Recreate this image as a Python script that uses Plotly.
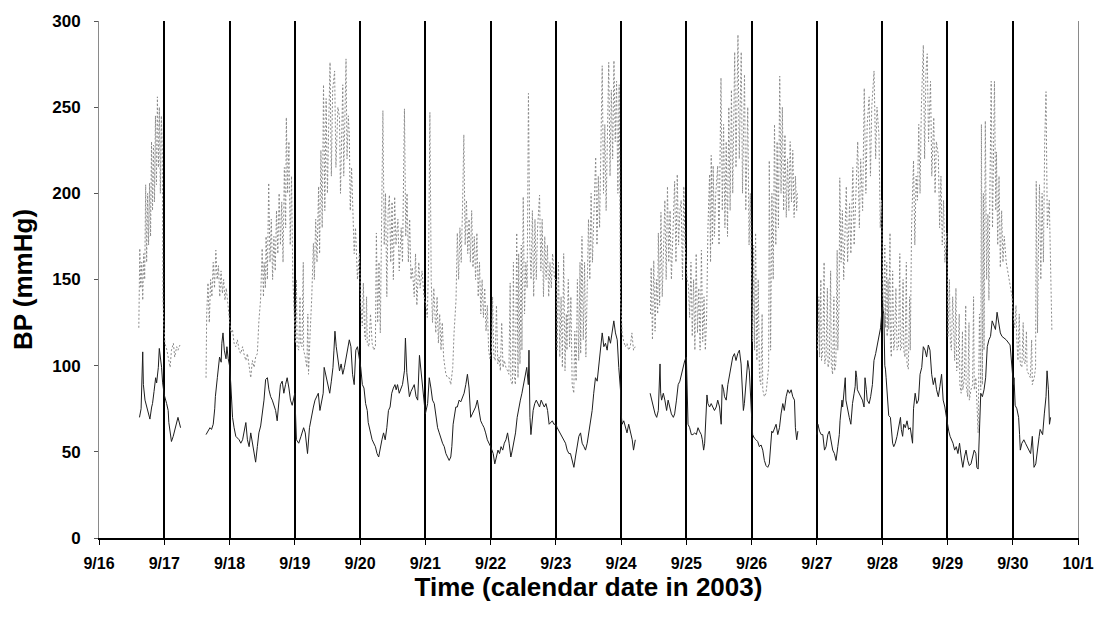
import pandas as pd
import plotly.graph_objects as go

BASE = pd.Timestamp("2003-09-16")

day_labels = ["9/16", "9/17", "9/18", "9/19", "9/20", "9/21", "9/22", "9/23",
              "9/24", "9/25", "9/26", "9/27", "9/28", "9/29", "9/30", "10/1"]
y_ticks = [0, 50, 100, 150, 200, 250, 300]

# (days since 9/16 00:00, mmHg) -- upper dotted series (systolic)
SYS_A = [(0.61, 122), (0.625, 168), (0.64, 145), (0.655, 160), (0.67, 138), (0.685, 165), (0.70, 150),
         (0.715, 205), (0.73, 160), (0.745, 200), (0.76, 170), (0.775, 206), (0.79, 175), (0.805, 230),
         (0.82, 190), (0.835, 228), (0.85, 195), (0.865, 245), (0.88, 205), (0.895, 256), (0.91, 215),
         (0.925, 250), (0.94, 200), (0.955, 245), (0.97, 225), (0.98, 140), (0.995, 122), (1.01, 113),
         (1.04, 109), (1.06, 105), (1.09, 99), (1.11, 109), (1.14, 113), (1.16, 105), (1.19, 111),
         (1.21, 109), (1.24, 112)]

SYS_B = [(1.64, 93), (1.65, 130), (1.67, 148), (1.69, 125), (1.71, 150), (1.73, 140), (1.75, 160),
         (1.77, 145), (1.79, 167), (1.81, 150), (1.83, 158), (1.85, 140), (1.87, 155), (1.89, 142),
         (1.91, 150), (1.93, 138), (1.95, 145), (1.97, 135), (1.99, 130),
         (2.02, 119), (2.045, 121), (2.07, 113), (2.095, 111), (2.12, 115), (2.147, 109), (2.17, 107),
         (2.2, 111), (2.22, 107), (2.25, 103), (2.274, 107), (2.30, 101), (2.325, 93), (2.35, 103),
         (2.376, 99), (2.40, 105), (2.426, 107), (2.45, 126), (2.475, 138), (2.49, 155), (2.5, 168),
         (2.52, 140), (2.53, 160), (2.55, 145), (2.56, 175), (2.58, 150), (2.6, 206), (2.62, 160),
         (2.64, 185), (2.66, 150), (2.68, 175), (2.7, 155), (2.72, 190), (2.74, 165), (2.76, 200),
         (2.78, 170), (2.8, 195), (2.82, 160), (2.84, 215), (2.86, 180), (2.87, 244), (2.89, 200),
         (2.91, 230), (2.93, 170), (2.95, 210), (2.97, 150), (2.99, 125),
         (3.01, 113), (3.025, 150), (3.035, 111), (3.06, 109), (3.08, 140), (3.085, 113), (3.11, 111),
         (3.13, 160), (3.135, 109), (3.16, 105), (3.185, 99), (3.2, 130), (3.21, 95), (3.235, 119),
         (3.26, 140), (3.285, 171), (3.30, 150), (3.32, 185), (3.34, 160), (3.365, 204), (3.38, 165),
         (3.40, 225), (3.42, 180), (3.44, 263), (3.46, 190), (3.48, 255), (3.50, 200), (3.52, 240),
         (3.54, 276), (3.56, 210), (3.58, 260), (3.61, 271), (3.63, 215), (3.66, 250), (3.685, 244),
         (3.70, 200), (3.72, 250), (3.735, 263), (3.75, 210), (3.77, 255), (3.785, 278), (3.80, 220),
         (3.82, 245), (3.835, 234), (3.85, 190), (3.87, 215), (3.885, 196), (3.91, 165), (3.93, 180),
         (3.96, 150), (3.99, 165),
         (4.01, 135), (4.035, 123), (4.05, 148), (4.07, 118), (4.085, 115), (4.1, 140), (4.11, 113),
         (4.135, 111), (4.16, 130), (4.185, 113), (4.21, 109), (4.235, 111), (4.25, 177), (4.27, 125),
         (4.29, 160), (4.31, 119), (4.33, 190), (4.35, 248), (4.37, 170), (4.39, 200), (4.41, 140),
         (4.43, 190), (4.45, 199), (4.47, 160), (4.49, 195), (4.51, 150), (4.53, 198), (4.55, 170),
         (4.58, 185), (4.60, 155), (4.63, 180), (4.65, 160), (4.68, 249), (4.70, 175), (4.72, 200),
         (4.74, 160), (4.76, 185), (4.78, 150), (4.80, 157), (4.83, 140), (4.85, 165), (4.87, 135),
         (4.90, 160), (4.92, 145), (4.95, 155), (4.98, 140),
         (5.01, 135), (5.03, 128), (5.05, 160), (5.07, 247), (5.09, 150), (5.11, 125), (5.13, 145),
         (5.16, 119), (5.18, 140), (5.2, 113), (5.22, 130), (5.24, 109), (5.26, 125), (5.28, 105),
         (5.30, 99), (5.315, 95), (5.34, 93), (5.365, 93), (5.39, 89), (5.42, 99), (5.44, 119),
         (5.47, 138), (5.49, 177), (5.51, 150), (5.53, 180), (5.55, 160), (5.57, 192), (5.59, 234),
         (5.61, 170), (5.63, 196), (5.65, 165), (5.67, 185), (5.69, 160), (5.71, 190), (5.73, 157),
         (5.75, 175), (5.77, 150), (5.79, 177), (5.81, 140), (5.83, 160), (5.85, 130), (5.87, 150),
         (5.89, 128), (5.91, 145), (5.93, 120), (5.95, 135), (5.97, 109), (5.99, 104),
         (6.015, 109), (6.03, 140), (6.05, 105), (6.07, 103), (6.09, 135), (6.11, 101), (6.13, 105),
         (6.15, 97), (6.17, 125), (6.19, 99), (6.21, 103), (6.235, 99), (6.26, 97), (6.28, 95),
         (6.30, 148), (6.31, 91), (6.335, 89), (6.35, 160), (6.36, 95), (6.38, 89), (6.40, 177),
         (6.42, 93), (6.43, 165), (6.45, 101), (6.47, 170), (6.48, 109), (6.50, 198), (6.52, 130),
         (6.54, 160), (6.56, 145), (6.58, 258), (6.60, 170), (6.62, 150), (6.64, 190), (6.66, 140),
         (6.68, 185), (6.70, 150), (6.72, 180), (6.75, 199), (6.77, 155), (6.79, 185), (6.81, 140),
         (6.83, 175), (6.85, 150), (6.87, 170), (6.89, 140), (6.91, 160), (6.93, 145), (6.95, 165),
         (6.98, 150),
         (7.01, 150), (7.02, 109), (7.04, 160), (7.06, 105), (7.08, 140), (7.10, 99), (7.12, 165),
         (7.14, 97), (7.16, 130), (7.17, 109), (7.19, 150), (7.21, 111), (7.23, 140), (7.25, 89),
         (7.275, 84), (7.29, 120), (7.31, 91), (7.33, 150), (7.35, 103), (7.37, 160), (7.38, 107),
         (7.40, 175), (7.42, 115), (7.44, 160), (7.46, 105), (7.48, 138), (7.50, 185), (7.52, 150),
         (7.54, 200), (7.56, 160), (7.58, 190), (7.61, 221), (7.63, 170), (7.65, 210), (7.67, 180),
         (7.69, 230), (7.71, 274), (7.73, 200), (7.75, 240), (7.77, 190), (7.79, 250), (7.81, 276),
         (7.83, 210), (7.85, 260), (7.87, 220), (7.89, 277), (7.91, 230), (7.93, 265), (7.95, 200),
         (7.97, 263), (7.99, 140),
         (8.015, 119), (8.04, 114), (8.065, 111), (8.09, 113), (8.115, 109), (8.14, 111), (8.165, 119),
         (8.19, 109), (8.215, 111)]

SYS_C = [(8.45, 130), (8.46, 157), (8.48, 115), (8.50, 161), (8.52, 120), (8.54, 150), (8.56, 130),
         (8.57, 177), (8.59, 135), (8.61, 189), (8.63, 140), (8.65, 170), (8.67, 196), (8.69, 150),
         (8.71, 204), (8.73, 160), (8.75, 190), (8.77, 150), (8.80, 185), (8.82, 207), (8.84, 160),
         (8.86, 211), (8.88, 170), (8.90, 190), (8.92, 196), (8.94, 150), (8.96, 204), (8.98, 170),
         (9.01, 150), (9.03, 147), (9.05, 128), (9.07, 160), (9.09, 117), (9.11, 150), (9.13, 109),
         (9.15, 165), (9.17, 119), (9.19, 145), (9.21, 109), (9.23, 167), (9.25, 114), (9.27, 140),
         (9.29, 109), (9.31, 128), (9.33, 180), (9.355, 211), (9.37, 160), (9.38, 222), (9.40, 170),
         (9.41, 216), (9.43, 175), (9.45, 200), (9.48, 216), (9.50, 170), (9.53, 267), (9.55, 190),
         (9.57, 240), (9.59, 180), (9.61, 230), (9.63, 175), (9.65, 250), (9.67, 190), (9.69, 260),
         (9.71, 200), (9.74, 282), (9.76, 215), (9.79, 292), (9.81, 220), (9.84, 282), (9.86, 200),
         (9.89, 269), (9.91, 190), (9.94, 250), (9.96, 170), (9.98, 200), (10.0, 150),
         (10.015, 114), (10.03, 170), (10.045, 109), (10.06, 177), (10.08, 103), (10.10, 150),
         (10.12, 93), (10.14, 89), (10.16, 130), (10.17, 86), (10.195, 82), (10.22, 84), (10.24, 93),
         (10.26, 99), (10.27, 219), (10.29, 109), (10.31, 200), (10.33, 150), (10.35, 240),
         (10.37, 170), (10.39, 230), (10.41, 180), (10.43, 268), (10.45, 200), (10.47, 250),
         (10.49, 190), (10.51, 234), (10.53, 186), (10.55, 220), (10.57, 190), (10.59, 230),
         (10.61, 195), (10.63, 225), (10.65, 186), (10.67, 210), (10.69, 190), (10.70, 200)]

SYS_D = [(11.01, 109), (11.03, 140), (11.04, 105), (11.06, 150), (11.07, 103), (11.09, 109),
         (11.11, 160), (11.12, 101), (11.14, 105), (11.16, 145), (11.17, 99), (11.19, 103),
         (11.21, 155), (11.22, 101), (11.24, 95), (11.26, 140), (11.27, 97), (11.29, 101),
         (11.31, 167), (11.32, 109), (11.34, 138), (11.35, 209), (11.37, 160), (11.39, 190),
         (11.41, 150), (11.43, 185), (11.45, 204), (11.47, 160), (11.50, 194), (11.52, 165),
         (11.55, 215), (11.57, 170), (11.60, 210), (11.625, 230), (11.65, 180), (11.67, 220),
         (11.70, 190), (11.725, 261), (11.75, 200), (11.77, 240), (11.80, 256), (11.82, 210),
         (11.84, 250), (11.875, 271), (11.90, 220), (11.92, 250), (11.95, 234), (11.97, 180),
         (11.99, 196),
         (12.01, 140), (12.025, 131), (12.04, 170), (12.05, 122), (12.07, 160), (12.076, 117),
         (12.09, 150), (12.10, 121), (12.12, 177), (12.126, 113), (12.14, 105), (12.16, 155),
         (12.177, 109), (12.19, 113), (12.21, 145), (12.227, 109), (12.25, 111), (12.27, 165),
         (12.28, 109), (12.30, 111), (12.32, 150), (12.33, 109), (12.35, 105), (12.37, 160),
         (12.38, 101), (12.40, 98), (12.42, 140), (12.43, 109), (12.45, 180), (12.48, 219),
         (12.50, 170), (12.52, 210), (12.54, 196), (12.56, 240), (12.58, 200), (12.60, 250),
         (12.63, 286), (12.65, 220), (12.67, 270), (12.69, 281), (12.71, 230), (12.74, 265),
         (12.76, 210), (12.79, 244), (12.81, 200), (12.83, 230), (12.86, 222), (12.88, 180),
         (12.90, 210), (12.92, 170), (12.94, 196), (12.96, 160), (12.99, 177),
         (13.01, 117), (13.03, 150), (13.045, 113), (13.06, 109), (13.08, 140), (13.10, 105),
         (13.11, 103), (13.13, 145), (13.14, 97), (13.16, 99), (13.18, 130), (13.19, 89), (13.21, 84),
         (13.23, 120), (13.235, 86), (13.26, 93), (13.28, 135), (13.285, 89), (13.31, 82),
         (13.33, 125), (13.335, 80), (13.36, 86), (13.385, 89), (13.40, 140), (13.41, 86),
         (13.435, 93), (13.45, 74), (13.47, 61), (13.49, 130), (13.51, 86), (13.52, 240),
         (13.535, 89), (13.55, 200), (13.56, 109), (13.58, 242), (13.60, 150), (13.62, 188),
         (13.635, 138), (13.65, 200), (13.67, 265), (13.69, 180), (13.72, 265), (13.74, 190),
         (13.75, 224), (13.77, 170), (13.79, 210), (13.81, 157), (13.83, 190), (13.85, 160),
         (13.87, 175), (13.90, 160), (13.95, 150), (13.99, 140),
         (14.01, 128), (14.03, 122), (14.05, 135), (14.06, 117), (14.08, 103), (14.10, 130),
         (14.115, 101), (14.14, 99), (14.16, 125), (14.17, 103), (14.19, 101), (14.21, 120),
         (14.22, 97), (14.25, 95), (14.27, 93), (14.29, 115), (14.30, 89), (14.33, 93), (14.35, 99),
         (14.36, 207), (14.38, 119), (14.40, 190), (14.41, 205), (14.43, 150), (14.45, 200),
         (14.47, 160), (14.49, 230), (14.51, 259), (14.53, 180), (14.56, 196), (14.58, 150),
         (14.60, 120)]

# lower solid series (diastolic)
DIA_A = [(0.62, 70), (0.645, 75), (0.67, 108), (0.68, 89), (0.705, 80), (0.73, 76), (0.756, 72),
         (0.78, 69), (0.807, 76), (0.82, 78), (0.843, 85), (0.868, 93), (0.883, 90), (0.909, 99),
         (0.924, 110), (0.944, 104), (0.959, 99), (0.975, 90), (1.0, 83), (1.036, 78), (1.06, 74),
         (1.07, 67), (1.086, 61), (1.11, 56), (1.137, 59), (1.16, 63), (1.21, 70), (1.25, 64)]

DIA_B = [(1.64, 60), (1.675, 62), (1.70, 64), (1.724, 63), (1.75, 66), (1.773, 75), (1.783, 82),
         (1.813, 93), (1.832, 99), (1.847, 105), (1.872, 102), (1.882, 113), (1.90, 119), (1.92, 109),
         (1.946, 104), (1.96, 111), (1.98, 104), (2.0, 100),
         (2.02, 89), (2.03, 80), (2.046, 70), (2.07, 64), (2.096, 59), (2.147, 57), (2.173, 55),
         (2.2, 57), (2.223, 61), (2.25, 67), (2.274, 57), (2.3, 53), (2.325, 61), (2.35, 55),
         (2.376, 47), (2.40, 44), (2.426, 53), (2.45, 61), (2.477, 65), (2.50, 72), (2.528, 80),
         (2.553, 92), (2.58, 93), (2.604, 86), (2.63, 82), (2.655, 80), (2.706, 74), (2.73, 68),
         (2.756, 80), (2.78, 89), (2.807, 91), (2.832, 84), (2.858, 89), (2.883, 93), (2.91, 87),
         (2.934, 80), (2.96, 77), (2.985, 82), (3.0, 84),
         (3.025, 57), (3.06, 55), (3.095, 59), (3.135, 64), (3.16, 61), (3.185, 53), (3.195, 49),
         (3.225, 64), (3.26, 72), (3.285, 76), (3.31, 80), (3.335, 82), (3.36, 84), (3.385, 74),
         (3.41, 80), (3.435, 84), (3.45, 99), (3.485, 93), (3.51, 89), (3.535, 84), (3.56, 91),
         (3.585, 99), (3.6, 109), (3.615, 120), (3.635, 111), (3.66, 103), (3.685, 97), (3.71, 101),
         (3.735, 95), (3.76, 99), (3.785, 105), (3.81, 109), (3.835, 115), (3.86, 111), (3.885, 95),
         (3.91, 89), (3.935, 109), (3.96, 111), (3.985, 105), (4.0, 101),
         (4.01, 99), (4.035, 89), (4.06, 87), (4.085, 78), (4.11, 74), (4.125, 67), (4.16, 61),
         (4.185, 57), (4.235, 53), (4.26, 49), (4.285, 47), (4.31, 53), (4.335, 57), (4.36, 61),
         (4.385, 57), (4.41, 64), (4.435, 74), (4.46, 76), (4.485, 84), (4.51, 87), (4.535, 89),
         (4.553, 86), (4.574, 89), (4.6, 84), (4.624, 86), (4.65, 89), (4.68, 97), (4.695, 116),
         (4.716, 96), (4.73, 91), (4.756, 82), (4.78, 85), (4.807, 87), (4.83, 89), (4.858, 82),
         (4.883, 80), (4.91, 106), (4.934, 97), (4.96, 84), (4.985, 77), (5.0, 72),
         (5.035, 78), (5.06, 93), (5.086, 87), (5.11, 80), (5.137, 78), (5.16, 70), (5.188, 64),
         (5.213, 61), (5.24, 57), (5.264, 55), (5.29, 53), (5.315, 49), (5.34, 47), (5.365, 45),
         (5.39, 47), (5.406, 53), (5.426, 66), (5.467, 76), (5.49, 76), (5.518, 80), (5.543, 79),
         (5.57, 82), (5.594, 84), (5.62, 89), (5.645, 95), (5.67, 87), (5.695, 70), (5.72, 72),
         (5.746, 74), (5.77, 76), (5.797, 80), (5.822, 74), (5.848, 68), (5.873, 66), (5.9, 64),
         (5.924, 61), (5.95, 57), (6.0, 53),
         (6.015, 51), (6.04, 49), (6.064, 43), (6.088, 47), (6.113, 51), (6.137, 49), (6.16, 53),
         (6.186, 51), (6.21, 55), (6.235, 57), (6.26, 61), (6.284, 55), (6.31, 47), (6.333, 51),
         (6.358, 57), (6.382, 61), (6.407, 70), (6.43, 76), (6.456, 80), (6.48, 84), (6.505, 89),
         (6.53, 95), (6.554, 99), (6.578, 89), (6.588, 109), (6.603, 70), (6.618, 60), (6.652, 74),
         (6.676, 78), (6.7, 80), (6.725, 78), (6.75, 76), (6.775, 80), (6.8, 78), (6.823, 76),
         (6.848, 78), (6.873, 74), (6.897, 66), (6.92, 67), (6.946, 68), (6.97, 66), (7.0, 66),
         (7.02, 64), (7.046, 62), (7.07, 61), (7.097, 59), (7.122, 57), (7.148, 55), (7.173, 51),
         (7.2, 49), (7.224, 49), (7.25, 45), (7.276, 41), (7.3, 47), (7.327, 53), (7.352, 59),
         (7.378, 61), (7.403, 55), (7.43, 53), (7.454, 51), (7.48, 55), (7.505, 61), (7.53, 66),
         (7.556, 74), (7.58, 84), (7.607, 93), (7.633, 91), (7.658, 99), (7.684, 109), (7.71, 119),
         (7.735, 111), (7.76, 113), (7.786, 109), (7.81, 117), (7.837, 113), (7.862, 119),
         (7.888, 126), (7.913, 119), (7.94, 115), (7.964, 99), (7.99, 86), (8.0, 72),
         (8.015, 66), (8.04, 68), (8.066, 64), (8.09, 61), (8.116, 66), (8.14, 62), (8.17, 57),
         (8.19, 51), (8.217, 57)]

DIA_C = [(8.444, 84), (8.47, 80), (8.495, 76), (8.52, 72), (8.545, 70), (8.57, 74), (8.596, 101),
         (8.606, 84), (8.62, 80), (8.646, 84), (8.67, 80), (8.697, 74), (8.72, 80), (8.747, 76),
         (8.77, 72), (8.8, 70), (8.82, 72), (8.848, 80), (8.874, 89), (8.9, 91), (8.924, 95),
         (8.95, 99), (8.975, 103), (9.0, 105),
         (9.025, 66), (9.05, 64), (9.076, 60), (9.1, 60), (9.127, 61), (9.152, 60), (9.178, 64),
         (9.2, 62), (9.228, 60), (9.244, 57), (9.264, 51), (9.28, 55), (9.294, 66), (9.305, 70),
         (9.315, 83), (9.33, 78), (9.355, 76), (9.38, 78), (9.406, 76), (9.43, 74), (9.457, 76),
         (9.48, 80), (9.508, 76), (9.533, 66), (9.548, 89), (9.57, 86), (9.584, 82), (9.61, 80),
         (9.635, 89), (9.66, 95), (9.685, 99), (9.71, 105), (9.736, 107), (9.76, 103), (9.787, 107),
         (9.812, 109), (9.838, 101), (9.863, 86), (9.873, 74), (9.888, 78), (9.914, 93), (9.94, 103),
         (9.964, 97), (9.99, 82), (10.0, 70),
         (10.015, 60), (10.04, 58), (10.067, 57), (10.092, 56), (10.118, 53), (10.144, 54),
         (10.17, 51), (10.195, 45), (10.22, 42), (10.246, 41), (10.27, 43), (10.287, 52),
         (10.308, 62), (10.323, 61), (10.35, 64), (10.374, 66), (10.4, 60), (10.426, 64),
         (10.45, 72), (10.477, 78), (10.5, 74), (10.528, 82), (10.554, 86), (10.58, 84),
         (10.605, 86), (10.63, 82), (10.656, 80), (10.67, 64), (10.69, 57), (10.708, 62)]

DIA_D = [(11.0, 60), (11.015, 66), (11.04, 62), (11.066, 60), (11.09, 60), (11.116, 51), (11.14, 53),
         (11.167, 60), (11.19, 62), (11.217, 57), (11.242, 51), (11.268, 49), (11.293, 45),
         (11.32, 53), (11.343, 60), (11.354, 68), (11.37, 78), (11.384, 80), (11.394, 76),
         (11.42, 86), (11.434, 93), (11.444, 80), (11.47, 74), (11.495, 70), (11.52, 66),
         (11.545, 78), (11.57, 84), (11.586, 88), (11.596, 97), (11.61, 93), (11.62, 86),
         (11.646, 84), (11.672, 82), (11.697, 80), (11.722, 76), (11.737, 93), (11.757, 86),
         (11.77, 80), (11.8, 78), (11.823, 82), (11.85, 89), (11.874, 103), (11.9, 107),
         (11.924, 112), (11.95, 117), (11.975, 122), (12.0, 134),
         (12.025, 130), (12.04, 100), (12.05, 98), (12.06, 93), (12.076, 86), (12.09, 76),
         (12.1, 71), (12.126, 70), (12.14, 62), (12.16, 55), (12.177, 53), (12.2, 55), (12.227, 59),
         (12.25, 63), (12.28, 70), (12.293, 63), (12.313, 59), (12.33, 66), (12.354, 64),
         (12.38, 68), (12.404, 63), (12.43, 64), (12.455, 59), (12.465, 55), (12.48, 75),
         (12.505, 84), (12.53, 78), (12.556, 80), (12.58, 95), (12.606, 99), (12.63, 111),
         (12.657, 109), (12.68, 105), (12.707, 112), (12.732, 109), (12.758, 95), (12.783, 89),
         (12.808, 93), (12.833, 86), (12.86, 82), (12.884, 88), (12.91, 95), (12.934, 80),
         (12.96, 76), (12.98, 71), (13.0, 66),
         (13.02, 62), (13.04, 59), (13.06, 57), (13.085, 55), (13.11, 51), (13.135, 53), (13.16, 49),
         (13.185, 55), (13.21, 47), (13.235, 41), (13.26, 47), (13.285, 51), (13.31, 45),
         (13.335, 42), (13.36, 43), (13.385, 47), (13.41, 51), (13.435, 49), (13.45, 41),
         (13.47, 40), (13.51, 84), (13.535, 82), (13.56, 86), (13.585, 93), (13.61, 111),
         (13.635, 115), (13.66, 117), (13.685, 126), (13.71, 124), (13.735, 121), (13.76, 131),
         (13.785, 126), (13.81, 119), (13.835, 117), (13.9, 115), (13.96, 112),
         (14.01, 89), (14.02, 93), (14.037, 77), (14.063, 75), (14.09, 70), (14.105, 60),
         (14.116, 51), (14.14, 55), (14.17, 57), (14.195, 55), (14.22, 53), (14.247, 51),
         (14.274, 49), (14.3, 59), (14.326, 41), (14.353, 43), (14.38, 53), (14.405, 59),
         (14.42, 63), (14.44, 61), (14.458, 60), (14.484, 72), (14.51, 82), (14.526, 97),
         (14.547, 86), (14.563, 66), (14.58, 70)]


def build(segments):
    xs, ys = [], []
    for seg in segments:
        for d, v in seg:
            xs.append(BASE + pd.Timedelta(days=d))
            ys.append(v)
        xs.append(None)
        ys.append(None)
    return xs, ys


sx, sy = build([SYS_A, SYS_B, SYS_C, SYS_D])
dx, dy = build([DIA_A, DIA_B, DIA_C, DIA_D])

fig = go.Figure()
fig.add_trace(go.Scatter(x=sx, y=sy, mode="lines", connectgaps=False,
                         line=dict(color="#8a8a8a", width=1, dash="2px,2px"), name="Systolic"))
fig.add_trace(go.Scatter(x=dx, y=dy, mode="lines", connectgaps=False,
                         line=dict(color="#1e1e1e", width=1), name="Diastolic"))

tick_dates = [BASE + pd.Timedelta(days=i) for i in range(len(day_labels))]
FONT = "Liberation Sans, Arial, sans-serif"
NARROW = "Liberation Sans Narrow, Arial Narrow, Liberation Sans, sans-serif"

fig.update_layout(
    width=1106, height=617,
    margin=dict(l=99, r=20, t=20, b=79),
    plot_bgcolor="white", paper_bgcolor="white",
    showlegend=False,
)
fig.update_xaxes(
    range=[tick_dates[0], tick_dates[-1]],
    tickvals=tick_dates, ticktext=day_labels,
    showgrid=True, gridcolor="black", gridwidth=1.5,
    showline=True, linecolor="black", linewidth=1.5,
    zeroline=False,
    ticks="outside", ticklen=5, tickcolor="black", tickwidth=1,
    ticklabelstandoff=5,
    tickfont=dict(family=NARROW, size=16, color="black", weight="bold"),
    title=dict(text="Time (calendar date in 2003)", standoff=6,
               font=dict(family=FONT, size=26, color="black", weight="bold")),
)
fig.update_yaxes(
    range=[0, 300], tickvals=y_ticks,
    showgrid=False, zeroline=False,
    showline=True, linecolor="#8a8a8a", linewidth=1, mirror=True,
    ticks="outside", ticklen=4, tickcolor="#555",
    ticklabelstandoff=10,
    tickfont=dict(family=FONT, size=17, color="black", weight="bold"),
    title=dict(text="BP (mmHg)", standoff=12,
               font=dict(family=FONT, size=26, color="black", weight="bold")),
)

fig.write_html("out.html")
